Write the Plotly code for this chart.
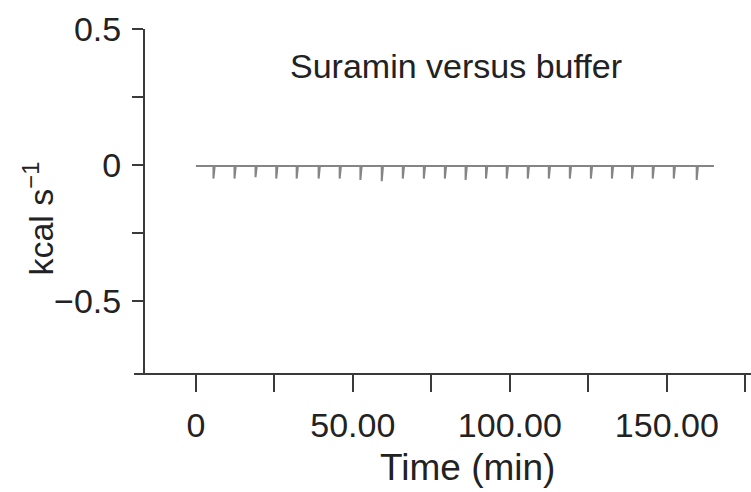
import plotly.graph_objects as go

# data
run_start_min = 0.0
run_end_min = 165.0
baseline_kcal_s = -0.004
injection_times_min = [5.6, 12.3, 19.0, 25.6, 32.1, 39.1, 45.8, 52.4, 59.2, 65.9, 72.6, 79.3,
                       85.9, 92.4, 99.0, 105.7, 112.4, 119.1, 125.8, 132.5, 138.9, 145.5, 152.2, 159.5]
injection_peaks_kcal_s = [-0.05, -0.05, -0.045, -0.05, -0.05, -0.05, -0.05, -0.055, -0.06, -0.05, -0.05, -0.05,
                          -0.055, -0.05, -0.05, -0.05, -0.05, -0.05, -0.05, -0.05, -0.05, -0.05, -0.05, -0.055]
x_tick_vals = [0, 25, 50, 75, 100, 125, 150, 175]
x_tick_text = ["0", "", "50.00", "", "100.00", "", "150.00", ""]
y_tick_vals = [0.5, 0.25, 0, -0.25, -0.5]
y_tick_text = ["0.5", "", "0", "", "\u22120.5"]

# build the thermogram trace
xs, ys = [run_start_min], [baseline_kcal_s]
for t, p in zip(injection_times_min, injection_peaks_kcal_s):
    xs += [t, t, t + 0.4]
    ys += [baseline_kcal_s, p, baseline_kcal_s]
xs.append(run_end_min)
ys.append(baseline_kcal_s)

FONT = "Liberation Sans, Arial, sans-serif"
AX = "#3a3a3a"
TXT = "#222"

fig = go.Figure()
fig.add_trace(go.Scatter(x=xs, y=ys, mode="lines",
                         line=dict(color="#858585", width=2), showlegend=False, hoverinfo="skip"))

fig.update_layout(
    width=751, height=492,
    margin=dict(l=134, r=0, t=29, b=119, autoexpand=False),
    paper_bgcolor="white", plot_bgcolor="white",
    font=dict(family=FONT, size=33, color=TXT),
    annotations=[
        dict(text="Suramin versus buffer", x=0.522, y=0.893, xref="paper", yref="paper",
             xanchor="center", yanchor="middle", showarrow=False,
             font=dict(family=FONT, size=34, color=TXT)),
        dict(text="Time (min)", x=0.54, y=-0.275, xref="paper", yref="paper",
             xanchor="center", yanchor="middle", showarrow=False,
             font=dict(family=FONT, size=37, color=TXT)),
        dict(text="kcal s<sup>\u22121</sup>", x=-0.155, y=0.45, xref="paper", yref="paper",
             xanchor="center", yanchor="middle", showarrow=False, textangle=-90,
             font=dict(family=FONT, size=34, color=TXT)),
    ],
    xaxis=dict(range=[-19.7, 176.8], showgrid=False, zeroline=False, showline=True, automargin=False,
               linecolor=AX, linewidth=2, ticks="outside", ticklen=17, tickwidth=2, tickcolor=AX,
               tickvals=x_tick_vals, ticktext=x_tick_text, ticklabelstandoff=4,
               tickfont=dict(family=FONT, size=34, color=TXT)),
    yaxis=dict(range=[-0.765, 0.5], showgrid=False, zeroline=False, showline=True, automargin=False,
               anchor="free", position=0.0162,
               linecolor=AX, linewidth=2, ticks="outside", ticklen=11, tickwidth=2, tickcolor=AX,
               tickvals=y_tick_vals, ticktext=y_tick_text, ticklabelstandoff=4,
               tickfont=dict(family=FONT, size=34, color=TXT)),
)

fig.write_html("out.html", config={"displayModeBar": False},
               post_script="document.body.style.margin='0';document.body.style.padding='0';")
